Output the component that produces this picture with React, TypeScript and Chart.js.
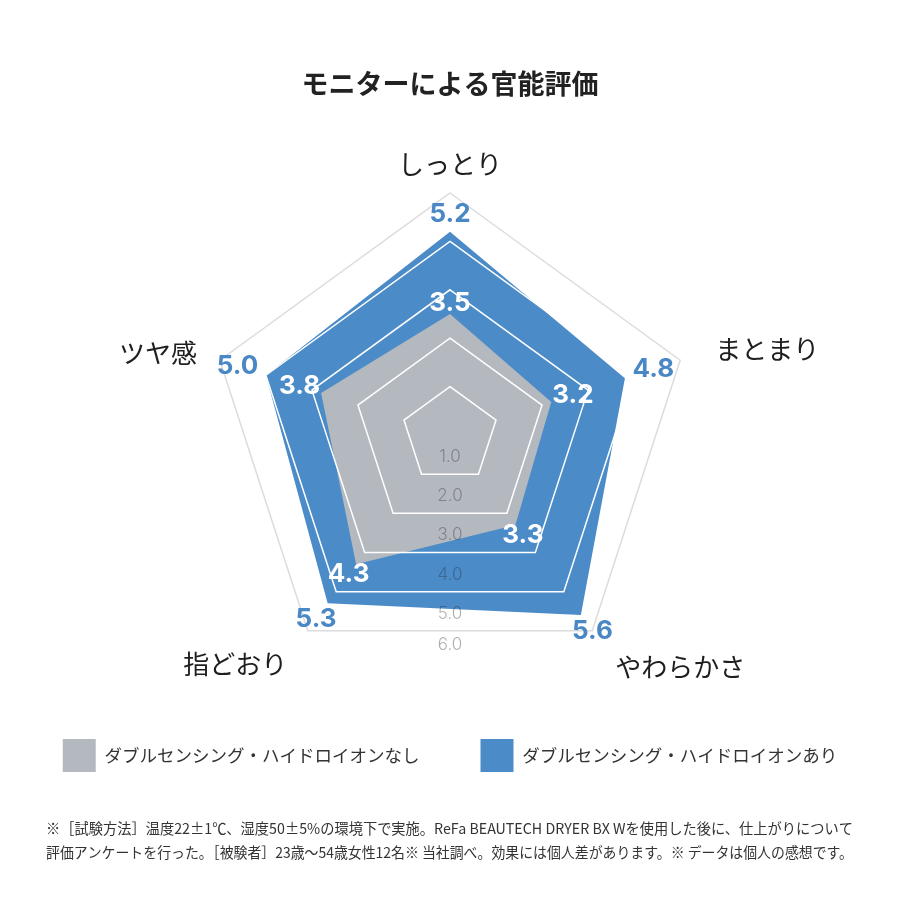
import React, { useEffect, useRef } from 'react';
import { Chart, registerables } from 'chart.js';

Chart.register(...registerables);

const categories = ['しっとり', 'まとまり', 'やわらかさ', '指どおり', 'ツヤ感'];
const seriesNames = ['ダブルセンシング・ハイドロイオンなし', 'ダブルセンシング・ハイドロイオンあり'];
const valuesWithout = [3.5, 3.2, 3.3, 4.3, 3.8];
const valuesWith = [5.2, 4.8, 5.6, 5.3, 5.0];
const tickValues = [1, 2, 3, 4, 5, 6];
const tickLabels = ['1.0', '2.0', '3.0', '4.0', '5.0', '6.0'];
const chartTitle = 'モニターによる官能評価';
const footnotes = [
  '※［試験方法］温度22±1℃、湿度50±5%の環境下で実施。ReFa BEAUTECH DRYER BX Wを使用した後に、仕上がりについて',
  '評価アンケートを行った。［被験者］23歳～54歳女性12名※ 当社調べ。効果には個人差があります。※ データは個人の感想です。',
];

const JP = "'Noto Sans CJK JP', 'Noto Sans', sans-serif";
const NUM = "Inter, 'Open Sans', sans-serif";
const GREY = '#b4b8bf';
const BLUE = '#4b8bc8';
const BLUE_TEXT = '#4a87c5';
const LABEL_PAD = [29, 37, 39, 35, 24];

const overlayPlugin = {
  id: 'overlay',
  afterDraw(chart: any) {
    const ctx = chart.ctx;
    const s = chart.scales.r;
    const cx = s.xCenter;
    const cy = s.yCenter;
    ctx.save();

    // scale tick labels, stacked below the centre
    ctx.font = `300 17px ${NUM}`;
    ctx.fillStyle = 'rgba(45,45,50,0.38)';
    ctx.textAlign = 'center';
    ctx.textBaseline = 'middle';
    const cos36 = Math.cos(Math.PI / 5);
    tickValues.forEach((v, i) => {
      const d = s.getDistanceFromCenterForValue(v) * cos36;
      const off = i === tickValues.length - 1 ? 14 : 22;
      ctx.fillText(tickLabels[i], cx, cy + d + off);
    });

    // category labels
    ctx.font = `400 26px ${JP}`;
    ctx.fillStyle = '#1e1e1e';
    categories.forEach((c, i) => {
      const p = s.getPointPosition(i, s.drawingArea + LABEL_PAD[i]);
      const dx = p.x - cx;
      const dy = p.y - cy;
      ctx.textAlign = Math.abs(dx) < 1 ? 'center' : dx > 0 ? 'left' : 'right';
      ctx.fillText(c, p.x, p.y + (dy > 10 ? 5 : 0));
    });

    // value labels
    const drawValues = (data: number[], color: string, base: number) => {
      ctx.font = `700 26px ${NUM}`;
      ctx.fillStyle = color;
      ctx.textAlign = 'center';
      ctx.textBaseline = 'middle';
      data.forEach((v, i) => {
        const u = s.getPointPosition(i, 1);
        const ux = u.x - cx;
        const uy = u.y - cy;
        const text = v.toFixed(1);
        const hw = ctx.measureText(text).width / 2;
        const hh = 9.5;
        const ex = Math.abs(ux) > 1e-6 ? hw / Math.abs(ux) : Infinity;
        const ey = Math.abs(uy) > 1e-6 ? hh / Math.abs(uy) : Infinity;
        const r = s.getDistanceFromCenterForValue(v) + base + Math.min(ex, ey);
        ctx.fillText(text, cx + ux * r, cy + uy * r);
      });
    };
    drawValues(valuesWith, BLUE_TEXT, 8);
    drawValues(valuesWithout, '#ffffff', 1);

    // footnotes
    ctx.font = `400 14.5px ${JP}`;
    ctx.fillStyle = '#333333';
    ctx.textAlign = 'left';
    ctx.textBaseline = 'middle';
    const top = chart.legend ? chart.legend.bottom : 782;
    footnotes.forEach((t, i) => ctx.fillText(t, 46, top + 46 + i * 24, 807));

    ctx.restore();
  },
};

export default function App() {
  const ref = useRef<HTMLCanvasElement | null>(null);

  useEffect(() => {
    if (!ref.current) return;
    Chart.defaults.font.family = JP;
    const chart = new Chart(ref.current, {
      type: 'radar',
      data: {
        labels: categories,
        datasets: [
          {
            label: seriesNames[0],
            data: valuesWithout,
            backgroundColor: GREY,
            borderColor: GREY,
            borderWidth: 0,
            pointRadius: 0,
            pointHoverRadius: 0,
            fill: 'start',
          },
          {
            label: seriesNames[1],
            data: valuesWith,
            backgroundColor: BLUE,
            borderColor: BLUE,
            borderWidth: 0,
            pointRadius: 0,
            pointHoverRadius: 0,
            fill: 'start',
          },
        ],
      },
      options: {
        responsive: false,
        animation: false,
        events: [],
        layout: { padding: { top: 0, bottom: 118, left: 0, right: 0 } },
        scales: {
          r: {
            min: 1,
            max: 6,
            ticks: { stepSize: 1, display: false },
            grid: {
              color: (c: any) => (c.tick && c.tick.value === 6 ? '#dcdcdc' : '#ffffff'),
              lineWidth: 1.5,
              z: 1,
            },
            angleLines: { display: false },
            pointLabels: { display: false },
          },
        },
        plugins: {
          title: {
            display: true,
            text: chartTitle,
            color: '#222222',
            font: { family: JP, size: 27, weight: 'bold', lineHeight: 1 },
            padding: { top: 70.5, bottom: 95.5 },
          },
          legend: {
            display: true,
            position: 'bottom',
            labels: {
              boxWidth: 33,
              boxHeight: 33,
              padding: 61,
              color: '#333333',
              font: { family: JP, size: 17.5 },
            },
          },
          tooltip: { enabled: false },
        },
      },
      plugins: [overlayPlugin],
    });
    return () => chart.destroy();
  }, []);

  return (
    <div style={{ position: 'absolute', left: 0, top: 0, width: 900, height: 900, background: '#ffffff' }}>
      <canvas ref={ref} width={900} height={900} />
    </div>
  );
}
